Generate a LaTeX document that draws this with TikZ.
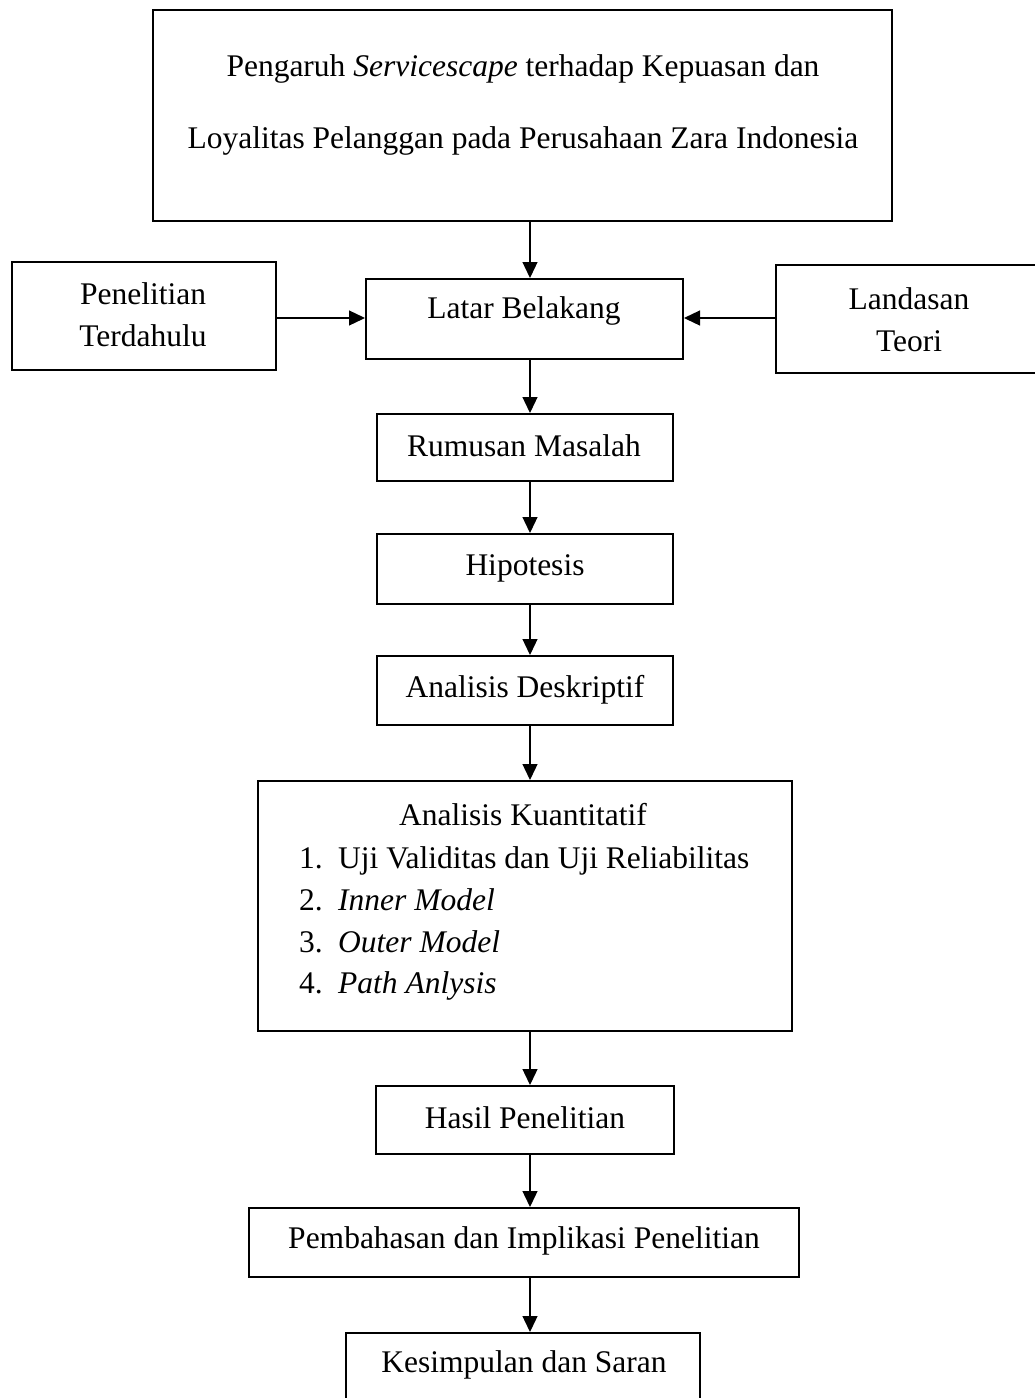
\documentclass[tikz,border=0pt]{standalone}
\usepackage{fontspec}
\setmainfont{Liberation Serif}
\usetikzlibrary{arrows.meta}
\newcommand{\numbox}[1]{\makebox[39pt][l]{#1}}
\begin{document}
\begin{tikzpicture}[x=1pt,y=-1pt,
  box/.style={draw, line width=2pt, rectangle, inner sep=0pt},
  txt/.style={font=\fontsize{31.5}{42}\selectfont, inner sep=0pt, align=center},
  arr/.style={line width=1.3pt, -{Triangle[length=16pt,width=15pt]}}]
\useasboundingbox (0,0) rectangle (1035,1398);
% boxes
\node[box, minimum width=739pt, minimum height=211pt] (title) at (522.5,115.5) {};
\node[box, minimum width=264pt, minimum height=108pt] (pen) at (144,316) {};
\node[box, minimum width=317pt, minimum height=80pt] (latar) at (524.5,319) {};
\node[box, minimum width=262pt, minimum height=108pt] (land) at (907,319) {};
\node[box, minimum width=296pt, minimum height=67pt] (rum) at (525,447.5) {};
\node[box, minimum width=296pt, minimum height=70pt] (hip) at (525,569) {};
\node[box, minimum width=296pt, minimum height=69pt] (desk) at (525,690.5) {};
\node[box, minimum width=534pt, minimum height=250pt] (kuan) at (525,906) {};
\node[box, minimum width=298pt, minimum height=68pt] (hasil) at (525,1120) {};
\node[box, minimum width=550pt, minimum height=69pt] (bahas) at (524,1242.5) {};
\node[box, minimum width=354pt, minimum height=80pt] (kes) at (523,1373) {};
% texts
\node[txt, font=\fontsize{31.5}{72}\selectfont] (titlet) at (523,105) {Pengaruh \textit{Servicescape} terhadap Kepuasan dan\\Loyalitas Pelanggan pada Perusahaan Zara Indonesia};
\node[txt] (pent) at (143,315) {Penelitian\\Terdahulu};
\node[txt] (latart) at (524,311) {Latar Belakang};
\node[txt] (landt) at (909,320) {Landasan\\Teori};
\node[txt] (rumt) at (524,446) {Rumusan Masalah};
\node[txt] (hipt) at (525,568) {Hipotesis};
\node[txt] (deskt) at (525,690) {Analisis Deskriptif};
\node[txt] (kuant) at (523,815) {Analisis Kuantitatif};
\node[txt, anchor=base west] (k1) at (299,868.5) {\numbox{1.}Uji Validitas dan Uji Reliabilitas};
\node[txt, anchor=base west] (k2) at (299,910.5) {\numbox{2.}\textit{Inner Model}};
\node[txt, anchor=base west] (k3) at (299,952.5) {\numbox{3.}\textit{Outer Model}};
\node[txt, anchor=base west] (k4) at (299,993.5) {\numbox{4.}\textit{Path Anlysis}};
\node[txt] (hasilt) at (525,1118) {Hasil Penelitian};
\node[txt] (bahast) at (524,1241) {Pembahasan dan Implikasi Penelitian};
\node[txt] (kest) at (524,1365) {Kesimpulan dan Saran};
% arrows
\coordinate (ax) at (530,0);
\draw[arr] (title.south -| ax) -- (latar.north -| ax);
\draw[arr] (latar.south -| ax) -- (rum.north -| ax);
\draw[arr] (rum.south -| ax) -- (hip.north -| ax);
\draw[arr] (hip.south -| ax) -- (desk.north -| ax);
\draw[arr] (desk.south -| ax) -- (kuan.north -| ax);
\draw[arr] (kuan.south -| ax) -- (hasil.north -| ax);
\draw[arr] (hasil.south -| ax) -- (bahas.north -| ax);
\draw[arr] (bahas.south -| ax) -- (kes.north -| ax);
\coordinate (ay) at (0,318);
\draw[arr] (pen.east |- ay) -- (latar.west |- ay);
\draw[arr] (land.west |- ay) -- (latar.east |- ay);
\end{tikzpicture}
\end{document}
